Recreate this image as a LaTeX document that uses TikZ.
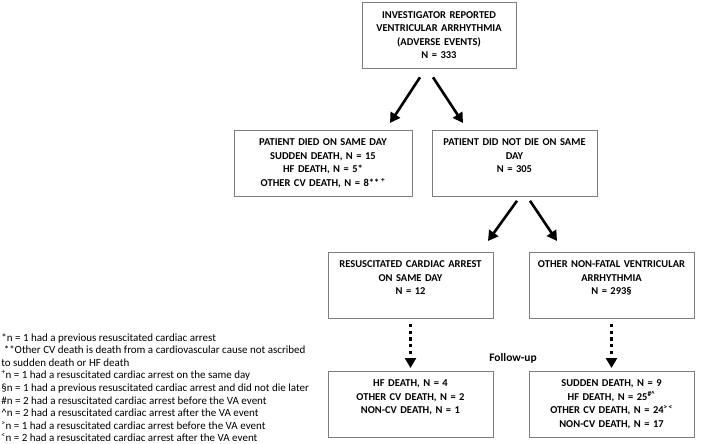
\documentclass[tikz,border=0pt]{standalone}
\usepackage{fontspec}
\setmainfont{Carlito}
\usetikzlibrary{arrows.meta}
\definecolor{boxgray}{RGB}{125,125,125}

\begin{document}
\begin{tikzpicture}[x=1pt,y=-1pt,->,>={Triangle[length=10pt,width=11pt]},
		line width=2.6pt,
		main box/.style={draw=boxgray,line width=0.8pt,anchor=north,align=center,
			font=\bfseries\fontsize{10.5}{13.5}\selectfont,inner xsep=4pt,inner ysep=6pt,
			text height=9.5pt,text depth=44.5pt,text width=157pt},
		note/.style={anchor=north west,align=left,inner sep=0pt,
			font=\fontsize{11}{12.6}\selectfont},
		dots/.style={dash pattern=on 3.2pt off 3.6pt,line width=3pt}]
		
		\useasboundingbox (0,0) rectangle (709,444);
		
		\node[main box,text width=146pt] (top) at (439,2.5) {INVESTIGATOR REPORTED\\VENTRICULAR ARRHYTHMIA\\(ADVERSE EVENTS)\\N = 333};
		\node[main box,text width=170pt] (died) at (323,130) {PATIENT DIED ON SAME DAY\\SUDDEN DEATH, N = 15\\HF DEATH, N = 5*\\OTHER CV DEATH, N = 8**\,\textsuperscript{+}};
		\node[main box] (alive) at (514.5,130) {PATIENT DID NOT DIE ON SAME\\DAY\\N = 305};
		\node[main box] (resus) at (410.5,252) {RESUSCITATED CARDIAC ARREST\\ON SAME DAY\\N = 12};
		\node[main box] (other) at (611.5,252) {OTHER NON-FATAL VENTRICULAR\\ARRHYTHMIA\\N = 293§};
		\node[main box] (resusfu) at (410.5,371) {HF DEATH, N = 4\\OTHER CV DEATH, N = 2\\NON-CV DEATH, N = 1};
		\node[main box] (otherfu) at (611.5,371) {SUDDEN DEATH, N = 9\\HF DEATH, N = 25\textsuperscript{\#\^{}}\\OTHER CV DEATH, N = 24\textsuperscript{>\,<}\\NON-CV DEATH, N = 17};
		\node[font=\bfseries\fontsize{11.5}{13}\selectfont] (follow) at (513,358) {Follow-up};
		
		\node[note] (notes) at (0,332) {*n = 1 had a previous resuscitated cardiac arrest\\
			\ **Other CV death is death from a cardiovascular cause not ascribed\\
			to sudden death or HF death\\
			\textsuperscript{+}n = 1 had a resuscitated cardiac arrest on the same day\\
			§n = 1 had a previous resuscitated cardiac arrest and did not die later\\
			\#n = 2 had a resuscitated cardiac arrest before the VA event\\
			\^{}n = 2 had a resuscitated cardiac arrest after the VA event\\
			\textsuperscript{>}n = 1 had a resuscitated cardiac arrest before the VA event\\
			\textsuperscript{<}n = 2 had a resuscitated cardiac arrest after the VA event};
		
		\draw ([shift={(-19,8)}]top.south) -- ([shift={(67,-7)}]died.north);
		\draw ([shift={(-6,8)}]top.south) -- ([shift={(-51.5,-7)}]alive.north);
		\draw ([shift={(2.5,4)}]alive.south) -- ([shift={(77.5,-11)}]resus.north);
		\draw ([shift={(15.5,4)}]alive.south) -- ([shift={(-54.5,-11)}]other.north);
		\draw[dots] ([yshift=-5pt]resus.south) -- ([yshift=3pt]resusfu.north);
		\draw[dots] ([yshift=-5pt]other.south) -- ([yshift=3pt]otherfu.north);
\end{tikzpicture}
\end{document}
